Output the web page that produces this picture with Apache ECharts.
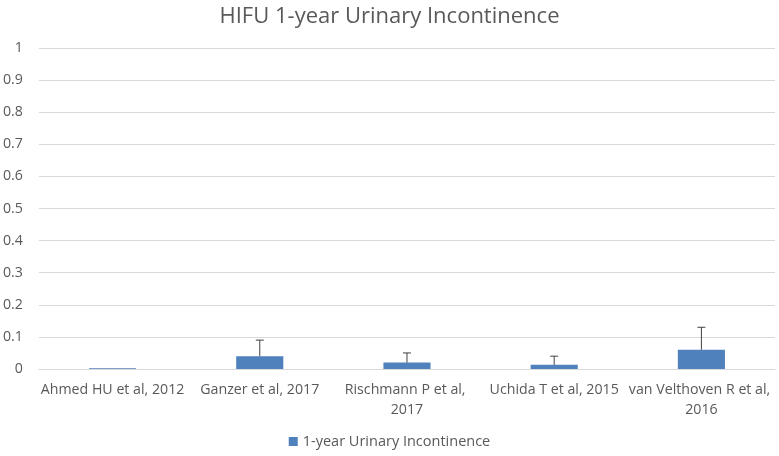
<!DOCTYPE html>
<html>
<head>
<meta charset="utf-8">
<script src="https://cdn.jsdelivr.net/npm/echarts@6/dist/echarts.min.js"></script>
<style>
  html, body { margin: 0; padding: 0; background: #fff; }
  #chart { width: 779px; height: 456px; }
</style>
</head>
<body>
<div id="chart"></div>
<script>
// data
var categories = [
  "Ahmed HU et al, 2012",
  "Ganzer et al, 2017",
  "Rischmann P et al, 2017",
  "Uchida T et al, 2015",
  "van Velthoven R et al, 2016"
];
var values = [0.002, 0.04, 0.02, 0.013, 0.06];
var upperErr = [0, 0.05, 0.03, 0.027, 0.07];
var yTicks = [0, 0.1, 0.2, 0.3, 0.4, 0.5, 0.6, 0.7, 0.8, 0.9, 1];

var seriesName = "1-year Urinary Incontinence";
var font = "'Open Sans', 'Liberation Sans', sans-serif";

var chart = echarts.init(document.getElementById("chart"));
chart.setOption({
  animation: false,
  title: {
    text: "HIFU 1-year Urinary Incontinence",
    left: "center",
    top: 1,
    textStyle: { fontFamily: font, fontSize: 22, fontWeight: "normal", color: "#595959" }
  },
  legend: {
    bottom: 2,
    left: "center",
    data: [seriesName],
    itemWidth: 9,
    itemHeight: 9,
    icon: "rect",
    textStyle: { fontFamily: font, fontSize: 14.5, color: "#595959" }
  },
  grid: { left: 38, right: 4, top: 48, bottom: 87 },
  xAxis: {
    type: "category",
    data: categories,
    axisLine: { lineStyle: { color: "#d9d9d9" } },
    axisTick: { show: false },
    axisLabel: {
      interval: 0,
      margin: 11,
      width: 147,
      overflow: "break",
      lineHeight: 20,
      fontFamily: font,
      fontSize: 14.2,
      color: "#595959"
    }
  },
  yAxis: {
    type: "value",
    min: yTicks[0],
    max: yTicks[yTicks.length - 1],
    interval: 0.1,
    axisLine: { show: false },
    axisTick: { show: false },
    splitLine: { lineStyle: { color: "#d9d9d9" } },
    axisLabel: {
      margin: 16,
      fontFamily: font,
      fontSize: 14.2,
      color: "#595959",
      formatter: function (v) { return String(Math.round(v * 10) / 10); }
    }
  },
  series: [
    {
      name: seriesName,
      type: "bar",
      data: values,
      barWidth: "32%",
      itemStyle: { color: "#4f81bd" }
    },
    {
      name: "error",
      type: "custom",
      data: values.map(function (v, i) { return [i, v, v + upperErr[i]]; }),
      z: 5,
      renderItem: function (params, api) {
        if (api.value(2) <= api.value(1)) return null;
        var base = api.coord([api.value(0), api.value(1)]);
        var top = api.coord([api.value(0), api.value(2)]);
        var style = { stroke: "#404040", lineWidth: 1 };
        return {
          type: "group",
          children: [
            { type: "line", shape: { x1: base[0], y1: base[1], x2: top[0], y2: top[1] }, style: style },
            { type: "line", shape: { x1: top[0] - 4, y1: top[1], x2: top[0] + 4, y2: top[1] }, style: style }
          ]
        };
      }
    }
  ]
});
</script>
</body>
</html>
